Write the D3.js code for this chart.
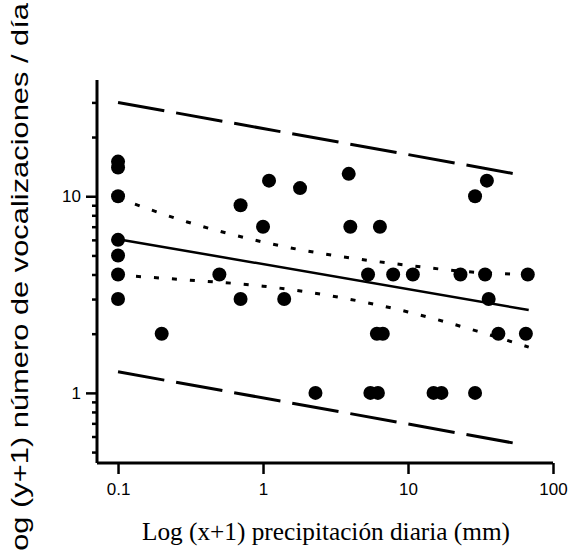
<!DOCTYPE html>
<html>
<head>
<meta charset="utf-8">
<title>vocalizaciones vs precipitacion</title>
<script src="https://d3js.org/d3.v7.min.js"></script>
<style>
  body { margin: 0; background: #fff; }
</style>
</head>
<body>
<script>

var precip = [0.1, 0.1, 0.1, 0.1, 0.1, 0.1, 0.1,
              0.7, 1.1, 1.8, 1.0, 0.5, 0.7, 1.4, 0.2,
              3.9, 4.0, 6.4, 35, 29,
              5.3, 7.9, 10.8, 23, 34, 67, 36,
              6.1, 6.7, 42, 65,
              2.3, 5.5, 6.2, 15, 17, 29];
var vocal  = [15, 14, 10, 6, 5, 4, 3,
              9, 12, 11, 7, 4, 3, 3, 2,
              13, 7, 7, 12, 10,
              4, 4, 4, 4, 4, 4, 3,
              2, 2, 2, 2,
              1, 1, 1, 1, 1, 1];

// fitted line, confidence band (dotted) and prediction band (long dashes)
var fitX = [0.1, 68];
var fitY = [6.05, 2.64];
var ciX = [0.1, 0.3, 1, 10, 30, 68];
var ciUpper = [9.8, 7.4, 5.85, 4.45, 4.1, 4.0];
var ciLower = [3.97, 3.75, 3.49, 2.58, 2.06, 1.71];
var piX = [0.1, 58];
var piUpper = [30, 12.9];
var piLower = [1.28, 0.55];

var xTicks = [0.1, 1, 10, 100];
var xTickLabels = ["0.1", "1", "10", "100"];
var yTicks = [1, 10];
var yMinor = [0.5, 0.6, 0.7, 0.8, 0.9, 2, 3, 4, 5, 6, 7, 8, 9, 20, 30];

var sans = "'Liberation Sans', Arial, sans-serif";
var serif = "'Liberation Serif', 'Times New Roman', serif";

var svg = d3.select("body").append("svg")
    .attr("width", 570)
    .attr("height", 550);

var x = d3.scaleLog().domain([0.0716, 100]).range([97, 553]);
var y = d3.scaleLog().domain([0.44, 39]).range([463, 80]);

// y axis, major + minor ticks
var yAxis = svg.append("g").attr("transform", "translate(97,0)")
    .call(d3.axisLeft(y).tickValues(yTicks).tickSize(11).tickPadding(5)
        .tickFormat(function (d) { return String(d); }));
svg.append("g").attr("transform", "translate(97,0)")
    .call(d3.axisLeft(y).tickValues(yMinor).tickSize(5).tickFormat(""))
    .select(".domain").remove();

var xAxis = svg.append("g").attr("transform", "translate(0,463)")
    .call(d3.axisBottom(x).tickValues(xTicks).tickSize(11).tickPadding(9)
        .tickFormat(function (d, i) { return xTickLabels[i]; }));

svg.selectAll(".domain").attr("stroke", "#000").attr("stroke-width", 3);
yAxis.select(".domain").attr("d", "M0,80V463");
xAxis.select(".domain").attr("d", "M97,0H553");
svg.selectAll(".tick line").attr("stroke", "#000").attr("stroke-width", 2.5);
svg.selectAll(".tick text")
    .style("font-family", sans)
    .attr("font-size", 17)
    .attr("fill", "#000");

// lines
var line = d3.line()
    .x(function (d) { return x(d[0]); })
    .y(function (d) { return y(d[1]); });
var curve = d3.line()
    .x(function (d) { return x(d[0]); })
    .y(function (d) { return y(d[1]); })
    .curve(d3.curveMonotoneX);

function pairs(xs, ys) { return xs.map(function (v, i) { return [v, ys[i]]; }); }

svg.append("path").attr("d", line(pairs(fitX, fitY)))
    .attr("fill", "none").attr("stroke", "#000").attr("stroke-width", 2.5);

[ciUpper, ciLower].forEach(function (band) {
    svg.append("path").attr("d", curve(pairs(ciX, band)))
        .attr("fill", "none").attr("stroke", "#000").attr("stroke-width", 3)
        .attr("stroke-dasharray", "5,13");
});

[piUpper, piLower].forEach(function (band) {
    svg.append("path").attr("d", line(pairs(piX, band)))
        .attr("fill", "none").attr("stroke", "#000").attr("stroke-width", 3)
        .attr("stroke-dasharray", "47,12");
});

// points
svg.selectAll("circle.pt")
    .data(pairs(precip, vocal))
    .enter().append("circle")
    .attr("class", "pt")
    .attr("cx", function (d) { return x(d[0]); })
    .attr("cy", function (d) { return y(d[1]); })
    .attr("r", 7)
    .attr("fill", "#000");

// axis titles
svg.append("text")
    .attr("x", 142).attr("y", 540)
    .attr("textLength", 368).attr("lengthAdjust", "spacingAndGlyphs")
    .style("font-family", serif)
    .attr("font-size", 26)
    .text("Log (x+1) precipitación diaria (mm)");

svg.append("text")
    .attr("transform", "translate(28,568) rotate(-90)")
    .attr("textLength", 565).attr("lengthAdjust", "spacingAndGlyphs")
    .style("font-family", sans)
    .attr("font-size", 24)
    .text("Log (y+1) número de vocalizaciones / día");

</script>
</body>
</html>
